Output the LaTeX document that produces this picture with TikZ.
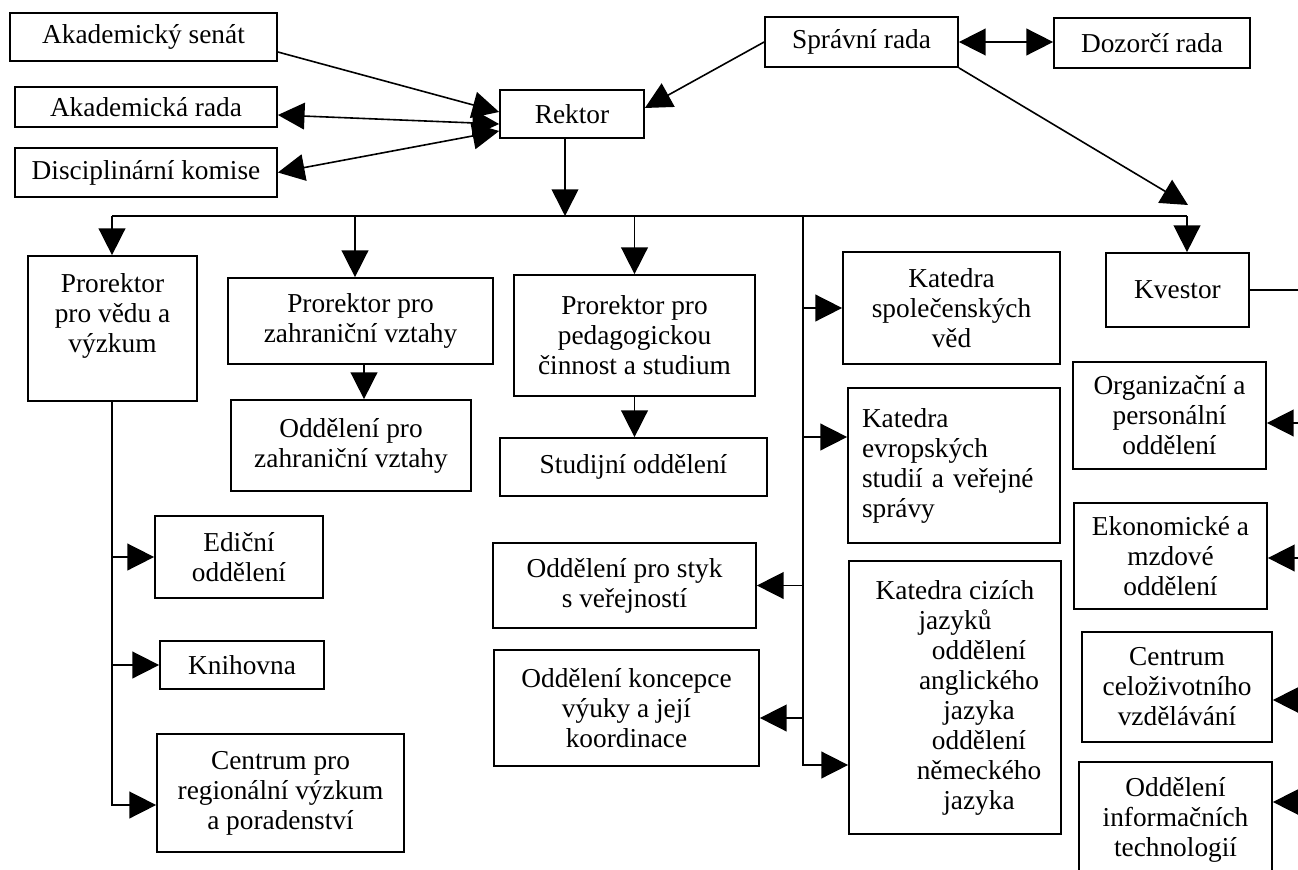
\documentclass[tikz,border=0pt]{standalone}
\usepackage{fontspec}
\setmainfont{Liberation Serif}
\usetikzlibrary{arrows.meta}
\newcommand\orgnode[6]{\node[obox, minimum width={(#4-#2)*0.75pt}, minimum height={(#5-#3)*0.75pt}] (#1) at ({(#2+#4)/2},{(#3+#5)/2}) {#6};}
\begin{document}
\begin{tikzpicture}[x=0.75pt,y=-0.75pt,
  obox/.style={draw, line width=1.3pt, rectangle, inner sep=0pt, align=center, font=\fontsize{20.5pt}{22.5pt}\selectfont},
  conn/.style={line width=1.2pt},
  arr/.style={conn, -{Triangle[length=20pt,width=20pt]}},
  darr/.style={conn, {Triangle[length=20pt,width=20pt]}-{Triangle[length=20pt,width=20pt]}}]
\useasboundingbox[fill=white] (0,0) rectangle (1298,870);

% top level
\orgnode{senat}{10}{13}{277}{61}{Akademický senát}
\orgnode{arada}{15}{87}{277}{127}{Akademická rada}
\orgnode{disc}{15}{148}{277}{197}{Disciplinární komise}
\orgnode{rektor}{500}{90}{644}{138}{Rektor}
\orgnode{sprav}{765}{17}{958}{67}{Správní rada}
\orgnode{dozor}{1054}{18}{1250}{68}{Dozorčí rada}

% second level
\orgnode{prvv}{28}{256}{197}{401}{Prorektor\\pro vědu a\\výzkum\\~}
\orgnode{przv}{228}{278}{493}{364}{Prorektor pro\\zahraniční vztahy}
\orgnode{odzv}{231}{400}{471}{491}{Oddělení pro\\zahraniční vztahy}
\orgnode{prped}{514}{275}{755}{396}{Prorektor pro\\pedagogickou\\činnost a studium}
\orgnode{stud}{500}{438}{767}{496}{Studijní oddělení}
\orgnode{ksv}{843}{252}{1060}{364}{Katedra\\společenských\\věd}
\node[obox, minimum width={212*0.75pt}, minimum height={155*0.75pt}, text width={184*0.75pt}, align=left] (kes) at (954,465.5) {Katedra\\evropských\\studií a veřejné\\správy};
\orgnode{kcj}{849}{561}{1061}{834}{Katedra cizích\\jazyků\\\hspace*{36pt}oddělení\\\hspace*{36pt}anglického\\\hspace*{36pt}jazyka\\\hspace*{36pt}oddělení\\\hspace*{36pt}německého\\\hspace*{36pt}jazyka}
\orgnode{kvestor}{1106}{253}{1249}{327}{Kvestor}
\orgnode{org}{1073}{362}{1266}{469}{Organizační a\\personální\\oddělení}
\orgnode{ekon}{1074}{503}{1267}{609}{Ekonomické a\\mzdové\\oddělení}
\orgnode{ccv}{1082}{632}{1272}{742}{Centrum\\celoživotního\\vzdělávání}
\orgnode{oit}{1079}{762}{1272}{878}{Oddělení\\informačních\\technologií}
\orgnode{edic}{155}{516}{323}{598}{Ediční\\oddělení}
\orgnode{knih}{160}{641}{324}{689}{Knihovna}
\orgnode{cprv}{157}{734}{404}{852}{Centrum pro\\regionální výzkum\\a poradenství}
\orgnode{styk}{493}{543}{756}{628}{Oddělení pro styk\\s veřejností}
\orgnode{konc}{494}{650}{759}{766}{Oddělení koncepce\\výuky a její\\koordinace}

% connectors at the top
\draw[arr] (senat.east |- 0,52) -- (rektor.west |- 0,112);
\draw[darr] (arada.east |- 0,115) -- (rektor.west |- 0,124);
\draw[darr] (disc.east) -- (rektor.west |- 0,131);
\draw[arr] (sprav.west) -- (rektor.east |- 0,108);
\draw[darr] (sprav.east) -- (dozor.west |- sprav.east);
\coordinate (kq) at (1188,205);
\draw[arr] (sprav.south east) -- (kq);

% bus
\coordinate (busL) at (112,216);
\coordinate (busR) at (1187,216);
\draw[conn] (busL) -- (busR);
\draw[arr] (565,0 |- rektor.south) -- (565,216);
\draw[arr] (busL) -- (busL |- prvv.north);
\draw[arr] (355,216) -- (355,0 |- przv.north);
\draw[arr] (prped.north |- busL) -- (prped.north);
\draw[arr] (busR) -- (busR |- kvestor.north);
\draw[arr] (przv.south -| 364,0) -- (364,0 |- odzv.north);
\draw[arr] (prped.south) -- (prped.south |- stud.north);

% middle vertical
\coordinate (vTop) at (803,216);
\coordinate (vBot) at (803,765);
\draw[arr] (vTop) -- (vBot) -- (kcj.west |- vBot);
\draw[arr] (vTop |- ksv.west) -- (ksv.west);
\draw[arr] (vTop |- 0,437) -- (kes.west |- 0,437);
\draw[arr] (vTop |- styk.east) -- (styk.east);
\draw[arr] (vTop |- 0,718) -- (konc.east |- 0,718);

% left vertical
\coordinate (lBot) at (112,806);
\draw[conn] (prvv.south -| lBot) -- (lBot);
\draw[arr] (lBot |- edic.west) -- (edic.west);
\draw[arr] (lBot |- knih.west) -- (knih.west);
\draw[arr] (lBot |- 0,805) -- (cprv.west |- 0,805);

% right vertical (mostly outside the page)
\coordinate (rTop) at (1305,290);
\coordinate (rBot) at (1305,900);
\draw[conn] (kvestor.east |- rTop) -- (rTop) -- (rBot);
\draw[arr] (rTop |- 0,423) -- (org.east |- 0,423);
\draw[arr] (rTop |- 0,558) -- (ekon.east |- 0,558);
\draw[arr] (rTop |- 0,700) -- (ccv.east |- 0,700);
\draw[arr] (rTop |- 0,802) -- (oit.east |- 0,802);
\end{tikzpicture}
\end{document}
